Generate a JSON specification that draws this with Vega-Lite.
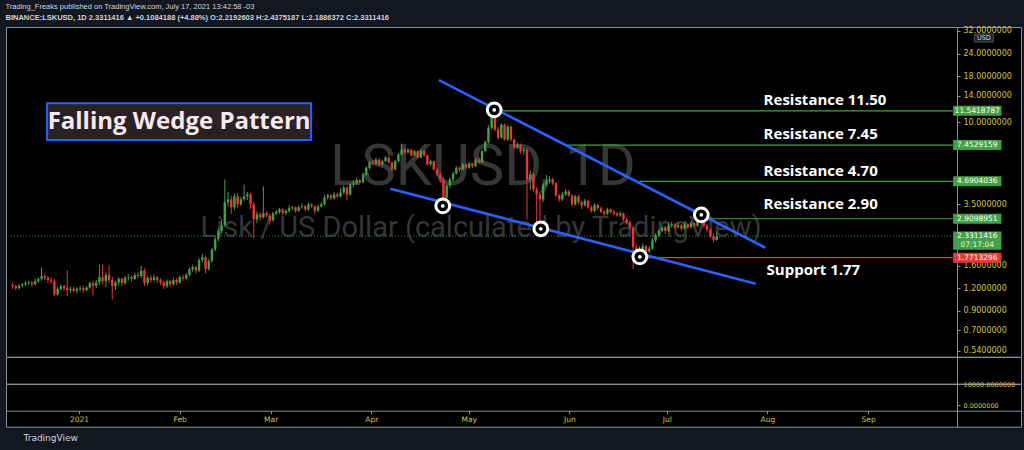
{
"$schema":"https://vega.github.io/schema/vega-lite/v6.json",
"background":"#131722",
"padding":{"left":5,"right":4,"top":3,"bottom":8},
"spacing":0,
"bounds":"flush",
"title":{"text":"Trading_Freaks published on TradingView.com, July 17, 2021 13:42:58 -03","subtitle":"BINANCE:LSKUSD, 1D  2.3311416 ▲ +0.1084188 (+4.88%) O:2.2192603 H:2.4375187 L:2.1886372 C:2.3311416","anchor":"start","frame":"bounds","font":"Liberation Sans","fontSize":7.5,"fontWeight":"normal","color":"#d1d4dc","subtitleFont":"Liberation Sans","subtitleFontSize":7.5,"subtitleFontWeight":"bold","subtitleColor":"#d1d4dc","subtitlePadding":3,"offset":5},
"config":{"view":{"stroke":"#8c8f99","fill":"#000000"},"axis":{"grid":false,"domainColor":"#8c8f99","tickColor":"#8c8f99","labelColor":"#d4c24a","labelFont":"DejaVu Sans","labelFontSize":8,"zindex":0}},
"datasets":{
"ohlc":[
{"t":"2020-12-10","o":1.25,"h":1.29,"l":1.19,"c":1.23},
{"t":"2020-12-11","o":1.23,"h":1.25,"l":1.17,"c":1.20},
{"t":"2020-12-12","o":1.20,"h":1.26,"l":1.18,"c":1.24},
{"t":"2020-12-13","o":1.24,"h":1.28,"l":1.21,"c":1.26},
{"t":"2020-12-14","o":1.26,"h":1.31,"l":1.23,"c":1.28},
{"t":"2020-12-15","o":1.28,"h":1.32,"l":1.25,"c":1.29},
{"t":"2020-12-16","o":1.29,"h":1.31,"l":1.22,"c":1.26},
{"t":"2020-12-17","o":1.26,"h":1.36,"l":1.24,"c":1.31},
{"t":"2020-12-18","o":1.31,"h":1.38,"l":1.28,"c":1.35},
{"t":"2020-12-19","o":1.35,"h":1.56,"l":1.32,"c":1.40},
{"t":"2020-12-20","o":1.40,"h":1.44,"l":1.33,"c":1.37},
{"t":"2020-12-21","o":1.37,"h":1.41,"l":1.28,"c":1.33},
{"t":"2020-12-22","o":1.33,"h":1.38,"l":1.27,"c":1.31},
{"t":"2020-12-23","o":1.31,"h":1.35,"l":1.08,"c":1.11},
{"t":"2020-12-24","o":1.11,"h":1.22,"l":1.09,"c":1.19},
{"t":"2020-12-25","o":1.19,"h":1.26,"l":1.17,"c":1.23},
{"t":"2020-12-26","o":1.23,"h":1.25,"l":1.16,"c":1.20},
{"t":"2020-12-27","o":1.20,"h":1.51,"l":1.08,"c":1.17},
{"t":"2020-12-28","o":1.17,"h":1.22,"l":1.13,"c":1.19},
{"t":"2020-12-29","o":1.19,"h":1.22,"l":1.14,"c":1.16},
{"t":"2020-12-30","o":1.16,"h":1.21,"l":1.12,"c":1.19},
{"t":"2020-12-31","o":1.19,"h":1.23,"l":1.15,"c":1.20},
{"t":"2021-01-01","o":1.20,"h":1.24,"l":1.13,"c":1.17},
{"t":"2021-01-02","o":1.17,"h":1.23,"l":1.15,"c":1.21},
{"t":"2021-01-03","o":1.21,"h":1.30,"l":1.19,"c":1.28},
{"t":"2021-01-04","o":1.28,"h":1.32,"l":1.09,"c":1.24},
{"t":"2021-01-05","o":1.24,"h":1.33,"l":1.20,"c":1.29},
{"t":"2021-01-06","o":1.29,"h":1.62,"l":1.25,"c":1.38},
{"t":"2021-01-07","o":1.38,"h":1.62,"l":1.26,"c":1.31},
{"t":"2021-01-08","o":1.31,"h":1.46,"l":1.22,"c":1.42},
{"t":"2021-01-09","o":1.42,"h":1.60,"l":1.28,"c":1.33},
{"t":"2021-01-10","o":1.33,"h":1.38,"l":1.04,"c":1.23},
{"t":"2021-01-11","o":1.23,"h":1.32,"l":1.17,"c":1.29},
{"t":"2021-01-12","o":1.29,"h":1.38,"l":1.24,"c":1.35},
{"t":"2021-01-13","o":1.35,"h":1.37,"l":1.23,"c":1.28},
{"t":"2021-01-14","o":1.28,"h":1.40,"l":1.25,"c":1.37},
{"t":"2021-01-15","o":1.37,"h":1.43,"l":1.32,"c":1.38},
{"t":"2021-01-16","o":1.38,"h":1.41,"l":1.30,"c":1.35},
{"t":"2021-01-17","o":1.35,"h":1.46,"l":1.33,"c":1.42},
{"t":"2021-01-18","o":1.42,"h":1.47,"l":1.36,"c":1.40},
{"t":"2021-01-19","o":1.40,"h":1.60,"l":1.37,"c":1.50},
{"t":"2021-01-20","o":1.50,"h":1.55,"l":1.23,"c":1.28},
{"t":"2021-01-21","o":1.28,"h":1.41,"l":1.24,"c":1.37},
{"t":"2021-01-22","o":1.37,"h":1.42,"l":1.29,"c":1.33},
{"t":"2021-01-23","o":1.33,"h":1.43,"l":1.31,"c":1.38},
{"t":"2021-01-24","o":1.38,"h":1.40,"l":1.29,"c":1.33},
{"t":"2021-01-25","o":1.33,"h":1.36,"l":1.25,"c":1.29},
{"t":"2021-01-26","o":1.29,"h":1.31,"l":1.19,"c":1.23},
{"t":"2021-01-27","o":1.23,"h":1.34,"l":1.20,"c":1.31},
{"t":"2021-01-28","o":1.31,"h":1.33,"l":1.22,"c":1.26},
{"t":"2021-01-29","o":1.26,"h":1.37,"l":1.24,"c":1.33},
{"t":"2021-01-30","o":1.33,"h":1.36,"l":1.25,"c":1.29},
{"t":"2021-01-31","o":1.29,"h":1.41,"l":1.27,"c":1.38},
{"t":"2021-02-01","o":1.38,"h":1.43,"l":1.32,"c":1.36},
{"t":"2021-02-02","o":1.36,"h":1.46,"l":1.34,"c":1.42},
{"t":"2021-02-03","o":1.42,"h":1.56,"l":1.40,"c":1.53},
{"t":"2021-02-04","o":1.53,"h":1.62,"l":1.48,"c":1.57},
{"t":"2021-02-05","o":1.57,"h":1.60,"l":1.44,"c":1.50},
{"t":"2021-02-06","o":1.50,"h":1.76,"l":1.47,"c":1.72},
{"t":"2021-02-07","o":1.72,"h":1.86,"l":1.66,"c":1.78},
{"t":"2021-02-08","o":1.78,"h":1.82,"l":1.45,"c":1.53},
{"t":"2021-02-09","o":1.53,"h":1.74,"l":1.50,"c":1.70},
{"t":"2021-02-10","o":1.70,"h":2.00,"l":1.66,"c":1.97},
{"t":"2021-02-11","o":1.97,"h":2.30,"l":1.92,"c":2.24},
{"t":"2021-02-12","o":2.24,"h":2.58,"l":2.18,"c":2.49},
{"t":"2021-02-13","o":2.49,"h":2.90,"l":2.41,"c":2.68},
{"t":"2021-02-14","o":2.68,"h":4.81,"l":2.62,"c":3.59},
{"t":"2021-02-15","o":3.59,"h":4.10,"l":3.40,"c":3.73},
{"t":"2021-02-16","o":3.73,"h":3.90,"l":3.10,"c":3.37},
{"t":"2021-02-17","o":3.37,"h":4.00,"l":3.25,"c":3.87},
{"t":"2021-02-18","o":3.87,"h":4.05,"l":3.35,"c":3.50},
{"t":"2021-02-19","o":3.50,"h":3.85,"l":3.42,"c":3.73},
{"t":"2021-02-20","o":3.73,"h":4.50,"l":3.65,"c":3.87},
{"t":"2021-02-21","o":3.87,"h":4.10,"l":3.70,"c":3.97},
{"t":"2021-02-22","o":3.97,"h":4.05,"l":3.30,"c":3.50},
{"t":"2021-02-23","o":3.50,"h":3.60,"l":2.28,"c":2.89},
{"t":"2021-02-24","o":2.89,"h":3.20,"l":2.75,"c":3.08},
{"t":"2021-02-25","o":3.08,"h":3.15,"l":2.85,"c":2.97},
{"t":"2021-02-26","o":2.97,"h":4.40,"l":2.92,"c":3.12},
{"t":"2021-02-27","o":3.12,"h":3.20,"l":2.95,"c":3.04},
{"t":"2021-02-28","o":3.04,"h":3.10,"l":2.70,"c":2.85},
{"t":"2021-03-01","o":2.85,"h":3.18,"l":2.80,"c":3.12},
{"t":"2021-03-02","o":3.12,"h":3.25,"l":3.05,"c":3.18},
{"t":"2021-03-03","o":3.18,"h":3.35,"l":3.10,"c":3.28},
{"t":"2021-03-04","o":3.28,"h":3.32,"l":3.05,"c":3.12},
{"t":"2021-03-05","o":3.12,"h":3.28,"l":3.05,"c":3.22},
{"t":"2021-03-06","o":3.22,"h":3.45,"l":3.15,"c":3.33},
{"t":"2021-03-07","o":3.33,"h":3.42,"l":3.25,"c":3.37},
{"t":"2021-03-08","o":3.37,"h":3.40,"l":3.15,"c":3.22},
{"t":"2021-03-09","o":3.22,"h":3.45,"l":3.18,"c":3.37},
{"t":"2021-03-10","o":3.37,"h":3.55,"l":3.30,"c":3.41},
{"t":"2021-03-11","o":3.41,"h":3.48,"l":3.20,"c":3.28},
{"t":"2021-03-12","o":3.28,"h":3.58,"l":3.22,"c":3.50},
{"t":"2021-03-13","o":3.50,"h":3.55,"l":3.35,"c":3.41},
{"t":"2021-03-14","o":3.41,"h":3.45,"l":3.10,"c":3.22},
{"t":"2021-03-15","o":3.22,"h":3.48,"l":3.18,"c":3.41},
{"t":"2021-03-16","o":3.41,"h":3.60,"l":3.35,"c":3.50},
{"t":"2021-03-17","o":3.50,"h":3.95,"l":3.45,"c":3.82},
{"t":"2021-03-18","o":3.82,"h":4.00,"l":3.72,"c":3.92},
{"t":"2021-03-19","o":3.92,"h":3.98,"l":3.70,"c":3.78},
{"t":"2021-03-20","o":3.78,"h":4.10,"l":3.72,"c":3.97},
{"t":"2021-03-21","o":3.97,"h":4.05,"l":3.80,"c":3.87},
{"t":"2021-03-22","o":3.87,"h":4.30,"l":3.82,"c":4.07},
{"t":"2021-03-23","o":4.07,"h":4.45,"l":3.98,"c":4.33},
{"t":"2021-03-24","o":4.33,"h":4.40,"l":3.70,"c":3.97},
{"t":"2021-03-25","o":3.97,"h":4.60,"l":3.90,"c":4.51},
{"t":"2021-03-26","o":4.51,"h":4.75,"l":4.35,"c":4.57},
{"t":"2021-03-27","o":4.57,"h":4.90,"l":4.50,"c":4.75},
{"t":"2021-03-28","o":4.75,"h":4.85,"l":4.55,"c":4.63},
{"t":"2021-03-29","o":4.63,"h":5.25,"l":4.58,"c":5.12},
{"t":"2021-03-30","o":5.12,"h":5.70,"l":5.05,"c":5.58},
{"t":"2021-03-31","o":5.58,"h":6.10,"l":5.45,"c":5.97},
{"t":"2021-04-01","o":5.97,"h":6.15,"l":5.75,"c":5.90},
{"t":"2021-04-02","o":5.90,"h":6.35,"l":5.80,"c":6.20},
{"t":"2021-04-03","o":6.20,"h":6.30,"l":5.70,"c":5.82},
{"t":"2021-04-04","o":5.82,"h":6.15,"l":5.75,"c":6.07},
{"t":"2021-04-05","o":6.07,"h":6.50,"l":6.00,"c":6.36},
{"t":"2021-04-06","o":6.36,"h":6.45,"l":5.90,"c":5.97},
{"t":"2021-04-07","o":5.97,"h":6.05,"l":5.35,"c":5.46},
{"t":"2021-04-08","o":5.46,"h":6.15,"l":5.40,"c":6.07},
{"t":"2021-04-09","o":6.07,"h":6.75,"l":6.00,"c":6.61},
{"t":"2021-04-10","o":6.61,"h":7.60,"l":6.55,"c":7.04},
{"t":"2021-04-11","o":7.04,"h":7.20,"l":6.70,"c":6.78},
{"t":"2021-04-12","o":6.78,"h":7.15,"l":6.70,"c":7.04},
{"t":"2021-04-13","o":7.04,"h":7.10,"l":6.45,"c":6.53},
{"t":"2021-04-14","o":6.53,"h":7.00,"l":6.48,"c":6.90},
{"t":"2021-04-15","o":6.90,"h":6.95,"l":6.30,"c":6.36},
{"t":"2021-04-16","o":6.36,"h":7.00,"l":6.30,"c":6.90},
{"t":"2021-04-17","o":6.90,"h":7.05,"l":6.45,"c":6.53},
{"t":"2021-04-18","o":6.53,"h":6.60,"l":5.75,"c":5.82},
{"t":"2021-04-19","o":5.82,"h":6.20,"l":5.70,"c":6.07},
{"t":"2021-04-20","o":6.07,"h":6.10,"l":5.40,"c":5.46},
{"t":"2021-04-21","o":5.46,"h":5.55,"l":5.00,"c":5.12},
{"t":"2021-04-22","o":5.12,"h":5.25,"l":4.60,"c":4.81},
{"t":"2021-04-23","o":4.81,"h":4.95,"l":3.20,"c":3.80},
{"t":"2021-04-24","o":3.80,"h":4.50,"l":3.70,"c":4.45},
{"t":"2021-04-25","o":4.45,"h":4.90,"l":4.30,"c":4.81},
{"t":"2021-04-26","o":4.81,"h":5.30,"l":4.70,"c":5.19},
{"t":"2021-04-27","o":5.19,"h":5.70,"l":5.10,"c":5.58},
{"t":"2021-04-28","o":5.58,"h":5.65,"l":5.30,"c":5.46},
{"t":"2021-04-29","o":5.46,"h":5.95,"l":5.40,"c":5.82},
{"t":"2021-04-30","o":5.82,"h":5.90,"l":5.45,"c":5.58},
{"t":"2021-05-01","o":5.58,"h":6.00,"l":5.50,"c":5.90},
{"t":"2021-05-02","o":5.90,"h":5.95,"l":5.55,"c":5.70},
{"t":"2021-05-03","o":5.70,"h":6.30,"l":5.65,"c":6.20},
{"t":"2021-05-04","o":6.20,"h":6.30,"l":5.85,"c":5.97},
{"t":"2021-05-05","o":5.97,"h":7.00,"l":5.90,"c":6.90},
{"t":"2021-05-06","o":6.90,"h":7.90,"l":6.80,"c":7.74},
{"t":"2021-05-07","o":7.74,"h":9.60,"l":7.60,"c":9.30},
{"t":"2021-05-08","o":9.30,"h":12.0,"l":9.10,"c":11.0},
{"t":"2021-05-09","o":11.0,"h":11.5,"l":8.90,"c":9.08},
{"t":"2021-05-10","o":9.08,"h":9.40,"l":8.00,"c":8.21},
{"t":"2021-05-11","o":8.21,"h":9.90,"l":8.10,"c":9.67},
{"t":"2021-05-12","o":9.67,"h":9.80,"l":7.90,"c":8.00},
{"t":"2021-05-13","o":8.00,"h":9.60,"l":7.85,"c":9.45},
{"t":"2021-05-14","o":9.45,"h":9.50,"l":7.80,"c":8.00},
{"t":"2021-05-15","o":8.00,"h":8.10,"l":7.10,"c":7.28},
{"t":"2021-05-16","o":7.28,"h":7.70,"l":7.10,"c":7.50},
{"t":"2021-05-17","o":7.50,"h":7.60,"l":6.70,"c":6.90},
{"t":"2021-05-18","o":6.90,"h":7.20,"l":6.60,"c":7.04},
{"t":"2021-05-19","o":7.04,"h":7.10,"l":2.89,"c":4.81},
{"t":"2021-05-20","o":4.81,"h":5.40,"l":4.20,"c":5.12},
{"t":"2021-05-21","o":5.12,"h":5.20,"l":4.10,"c":4.23},
{"t":"2021-05-22","o":4.23,"h":4.40,"l":2.80,"c":3.97},
{"t":"2021-05-23","o":3.97,"h":4.10,"l":2.60,"c":3.73},
{"t":"2021-05-24","o":3.73,"h":4.60,"l":3.60,"c":4.51},
{"t":"2021-05-25","o":4.51,"h":5.10,"l":4.40,"c":4.69},
{"t":"2021-05-26","o":4.69,"h":5.00,"l":4.55,"c":4.81},
{"t":"2021-05-27","o":4.81,"h":4.90,"l":4.45,"c":4.57},
{"t":"2021-05-28","o":4.57,"h":4.65,"l":3.85,"c":3.92},
{"t":"2021-05-29","o":3.92,"h":4.00,"l":3.60,"c":3.73},
{"t":"2021-05-30","o":3.73,"h":4.10,"l":3.65,"c":3.97},
{"t":"2021-05-31","o":3.97,"h":4.25,"l":3.90,"c":4.12},
{"t":"2021-06-01","o":4.12,"h":4.20,"l":3.85,"c":3.92},
{"t":"2021-06-02","o":3.92,"h":3.98,"l":3.40,"c":3.50},
{"t":"2021-06-03","o":3.50,"h":3.95,"l":3.45,"c":3.87},
{"t":"2021-06-04","o":3.87,"h":3.95,"l":3.50,"c":3.59},
{"t":"2021-06-05","o":3.59,"h":3.65,"l":3.30,"c":3.46},
{"t":"2021-06-06","o":3.46,"h":3.75,"l":3.40,"c":3.66},
{"t":"2021-06-07","o":3.66,"h":3.70,"l":3.30,"c":3.37},
{"t":"2021-06-08","o":3.37,"h":3.45,"l":3.15,"c":3.22},
{"t":"2021-06-09","o":3.22,"h":3.55,"l":3.15,"c":3.46},
{"t":"2021-06-10","o":3.46,"h":3.52,"l":3.25,"c":3.33},
{"t":"2021-06-11","o":3.33,"h":3.40,"l":3.12,"c":3.18},
{"t":"2021-06-12","o":3.18,"h":3.25,"l":3.02,"c":3.11},
{"t":"2021-06-13","o":3.11,"h":3.35,"l":3.05,"c":3.28},
{"t":"2021-06-14","o":3.28,"h":3.32,"l":3.10,"c":3.18},
{"t":"2021-06-15","o":3.18,"h":3.25,"l":3.05,"c":3.11},
{"t":"2021-06-16","o":3.11,"h":3.18,"l":2.98,"c":3.04},
{"t":"2021-06-17","o":3.04,"h":3.20,"l":2.98,"c":3.11},
{"t":"2021-06-18","o":3.11,"h":3.15,"l":2.82,"c":2.89},
{"t":"2021-06-19","o":2.89,"h":2.95,"l":2.70,"c":2.78},
{"t":"2021-06-20","o":2.78,"h":2.85,"l":2.55,"c":2.61},
{"t":"2021-06-21","o":2.61,"h":2.66,"l":1.53,"c":2.02},
{"t":"2021-06-22","o":2.02,"h":2.10,"l":1.75,"c":1.87},
{"t":"2021-06-23","o":1.87,"h":2.05,"l":1.80,"c":1.97},
{"t":"2021-06-24","o":1.97,"h":2.12,"l":1.92,"c":2.05},
{"t":"2021-06-25","o":2.05,"h":2.08,"l":1.85,"c":1.92},
{"t":"2021-06-26","o":1.92,"h":2.05,"l":1.88,"c":1.99},
{"t":"2021-06-27","o":1.99,"h":2.28,"l":1.95,"c":2.21},
{"t":"2021-06-28","o":2.21,"h":2.42,"l":2.15,"c":2.36},
{"t":"2021-06-29","o":2.36,"h":2.55,"l":2.30,"c":2.49},
{"t":"2021-06-30","o":2.49,"h":2.68,"l":2.45,"c":2.61},
{"t":"2021-07-01","o":2.61,"h":2.65,"l":2.40,"c":2.49},
{"t":"2021-07-02","o":2.49,"h":2.75,"l":2.45,"c":2.67},
{"t":"2021-07-03","o":2.67,"h":2.80,"l":2.60,"c":2.71},
{"t":"2021-07-04","o":2.71,"h":2.76,"l":2.55,"c":2.61},
{"t":"2021-07-05","o":2.61,"h":2.78,"l":2.58,"c":2.67},
{"t":"2021-07-06","o":2.67,"h":2.72,"l":2.50,"c":2.57},
{"t":"2021-07-07","o":2.57,"h":2.80,"l":2.52,"c":2.71},
{"t":"2021-07-08","o":2.71,"h":2.75,"l":2.55,"c":2.61},
{"t":"2021-07-09","o":2.61,"h":2.82,"l":2.58,"c":2.75},
{"t":"2021-07-10","o":2.75,"h":2.78,"l":2.60,"c":2.67},
{"t":"2021-07-11","o":2.67,"h":2.88,"l":2.62,"c":2.82},
{"t":"2021-07-12","o":2.82,"h":3.05,"l":2.78,"c":2.94},
{"t":"2021-07-13","o":2.94,"h":2.98,"l":2.60,"c":2.67},
{"t":"2021-07-14","o":2.67,"h":2.72,"l":2.45,"c":2.53},
{"t":"2021-07-15","o":2.53,"h":2.58,"l":2.28,"c":2.33},
{"t":"2021-07-16","o":2.33,"h":2.40,"l":2.15,"c":2.2227},
{"t":"2021-07-17","o":2.2193,"h":2.4375,"l":2.1886,"c":2.3311}
],
"lvl":[
{"t":"2021-05-08T19:00:00Z","p":11.5418787,"kind":"resistance"},
{"t":"2021-05-31T12:00:00Z","p":7.4529159,"kind":"resistance"},
{"t":"2021-06-23T00:00:00Z","p":4.6904036,"kind":"resistance"},
{"t":"2021-07-12T05:00:00Z","p":2.9098951,"kind":"resistance"},
{"t":"2021-06-23T02:00:00Z","p":1.7713296,"kind":"support"}
],
"wedge":[
{"w":"upper","t":"2021-04-21T14:00:00Z","p":17.1},
{"w":"upper","t":"2021-08-01T03:00:00Z","p":2.01},
{"w":"lower","t":"2021-04-06T12:00:00Z","p":4.27},
{"w":"lower","t":"2021-07-29T03:00:00Z","p":1.27}
],
"circ":[
{"t":"2021-05-08T19:00:00Z","p":11.68},
{"t":"2021-04-22T19:00:00Z","p":3.43},
{"t":"2021-05-23T07:00:00Z","p":2.56},
{"t":"2021-06-23T02:00:00Z","p":1.79},
{"t":"2021-07-12T05:00:00Z","p":3.06}
],
"ann":[
{"t":"2021-07-31T14:00:00Z","p":13.27,"txt":"Resistance 11.50"},
{"t":"2021-07-31T14:00:00Z","p":8.60,"txt":"Resistance 7.45"},
{"t":"2021-07-31T14:00:00Z","p":5.37,"txt":"Resistance 4.70"},
{"t":"2021-07-31T14:00:00Z","p":3.52,"txt":"Resistance 2.90"},
{"t":"2021-08-01T12:00:00Z","p":1.52,"txt":"Support 1.77"}
],
"tags":[
{"p":11.5418787,"txt":"11.5418787","kind":"resistance"},
{"p":7.4529159,"txt":"7.4529159","kind":"resistance"},
{"p":4.6904036,"txt":"4.6904036","kind":"resistance"},
{"p":2.9098951,"txt":"2.9098951","kind":"resistance"},
{"p":1.7713296,"txt":"1.7713296","kind":"support"}
],
"last":[{"p":2.3311416,"txt":"2.3311416","sub":"07:17:04","kind":"resistance"}]
},
"vconcat":[
{
"width":1015,"height":329.7,
"layer":[
{"data":{"values":[{"t":"2021-05-05T07:00:00Z","p":4.49,"txt":"LSKUSD, 1D"}]},
 "mark":{"type":"text","font":"Roboto","fontSize":58,"color":"#363636","align":"center","baseline":"alphabetic"},
 "encoding":{"x":{"field":"t","type":"temporal","scale":{"type":"utc","nice":false,"domain":[{"year":2020,"month":12,"date":9,"hours":12,"utc":true},{"year":2021,"month":10,"date":18,"hours":2,"utc":true}]},"axis":null},
  "y":{"field":"p","type":"quantitative","scale":{"type":"log","nice":false,"domain":[0.5,33.67]},"axis":{"orient":"right","offset":-64,"values":[0.54,0.7,0.9,1.2,1.6,3.5,10,14,18,24,32],"format":".7f","tickSize":3,"labelPadding":3,"labelOverlap":false,"title":null,"zindex":0}},
  "text":{"field":"txt"}}},
{"data":{"values":[{"t":"2021-05-04T17:00:00Z","p":2.31,"txt":"Lisk / US Dollar (calculated by TradingView)"}]},
 "mark":{"type":"text","font":"Roboto","fontSize":29,"color":"#363636","align":"center","baseline":"alphabetic"},
 "encoding":{"x":{"field":"t","type":"temporal","scale":{"type":"utc","nice":false,"domain":[{"year":2020,"month":12,"date":9,"hours":12,"utc":true},{"year":2021,"month":10,"date":18,"hours":2,"utc":true}]},"axis":null},
  "y":{"field":"p","type":"quantitative","scale":{"type":"log","nice":false,"domain":[0.5,33.67]},"axis":{"orient":"right","offset":-64,"values":[0.54,0.7,0.9,1.2,1.6,3.5,10,14,18,24,32],"format":".7f","tickSize":3,"labelPadding":3,"labelOverlap":false,"title":null,"zindex":0}},"text":{"field":"txt"}}},
{"data":{"values":[{"p":2.3311416}]},
 "mark":{"type":"rule","color":"#2e7d32","strokeWidth":1,"strokeDash":[1,2]},
 "encoding":{"x":{"datum":{"year":2020,"month":12,"date":9,"hours":12,"utc":true},"type":"temporal","scale":{"type":"utc","nice":false,"domain":[{"year":2020,"month":12,"date":9,"hours":12,"utc":true},{"year":2021,"month":10,"date":18,"hours":2,"utc":true}]},"axis":null},"x2":{"datum":{"year":2021,"month":9,"date":28,"hours":10,"utc":true}},
  "y":{"field":"p","type":"quantitative","scale":{"type":"log","nice":false,"domain":[0.5,33.67]},"axis":{"orient":"right","offset":-64,"values":[0.54,0.7,0.9,1.2,1.6,3.5,10,14,18,24,32],"format":".7f","tickSize":3,"labelPadding":3,"labelOverlap":false,"title":null,"zindex":0}}}},
{"data":{"name":"ohlc"},
 "mark":{"type":"rule","strokeWidth":1},
 "encoding":{"x":{"field":"t","type":"temporal","scale":{"type":"utc","nice":false,"domain":[{"year":2020,"month":12,"date":9,"hours":12,"utc":true},{"year":2021,"month":10,"date":18,"hours":2,"utc":true}]},"axis":null},
  "y":{"field":"l","type":"quantitative","scale":{"type":"log","nice":false,"domain":[0.5,33.67]},"axis":{"orient":"right","offset":-64,"values":[0.54,0.7,0.9,1.2,1.6,3.5,10,14,18,24,32],"format":".7f","tickSize":3,"labelPadding":3,"labelOverlap":false,"title":null,"zindex":0}},"y2":{"field":"h"},
  "color":{"condition":{"test":"datum.c >= datum.o","value":"#43a047"},"value":"#e53935"}}},
{"data":{"name":"ohlc"},
 "mark":{"type":"bar","width":2.4},
 "encoding":{"x":{"field":"t","type":"temporal","scale":{"type":"utc","nice":false,"domain":[{"year":2020,"month":12,"date":9,"hours":12,"utc":true},{"year":2021,"month":10,"date":18,"hours":2,"utc":true}]},"axis":null},
  "y":{"field":"o","type":"quantitative","scale":{"type":"log","nice":false,"domain":[0.5,33.67]},"axis":{"orient":"right","offset":-64,"values":[0.54,0.7,0.9,1.2,1.6,3.5,10,14,18,24,32],"format":".7f","tickSize":3,"labelPadding":3,"labelOverlap":false,"title":null,"zindex":0}},"y2":{"field":"c"},
  "color":{"condition":{"test":"datum.c >= datum.o","value":"#43a047"},"value":"#e53935"}}},
{"data":{"name":"lvl"},
 "mark":{"type":"rule","strokeWidth":1.2},
 "encoding":{"x":{"field":"t","type":"temporal","scale":{"type":"utc","nice":false,"domain":[{"year":2020,"month":12,"date":9,"hours":12,"utc":true},{"year":2021,"month":10,"date":18,"hours":2,"utc":true}]},"axis":null},"x2":{"datum":{"year":2021,"month":9,"date":28,"hours":10,"utc":true}},
  "y":{"field":"p","type":"quantitative","scale":{"type":"log","nice":false,"domain":[0.5,33.67]},"axis":{"orient":"right","offset":-64,"values":[0.54,0.7,0.9,1.2,1.6,3.5,10,14,18,24,32],"format":".7f","tickSize":3,"labelPadding":3,"labelOverlap":false,"title":null,"zindex":0}},
  "color":{"field":"kind","type":"nominal","scale":{"domain":["resistance","support"],"range":["#43a047","#e53935"]},"legend":null}}},
{"data":{"name":"wedge"},
 "mark":{"type":"line","color":"#2962ff","strokeWidth":2.6},
 "encoding":{"x":{"field":"t","type":"temporal","scale":{"type":"utc","nice":false,"domain":[{"year":2020,"month":12,"date":9,"hours":12,"utc":true},{"year":2021,"month":10,"date":18,"hours":2,"utc":true}]},"axis":null},
  "y":{"field":"p","type":"quantitative","scale":{"type":"log","nice":false,"domain":[0.5,33.67]},"axis":{"orient":"right","offset":-64,"values":[0.54,0.7,0.9,1.2,1.6,3.5,10,14,18,24,32],"format":".7f","tickSize":3,"labelPadding":3,"labelOverlap":false,"title":null,"zindex":0}},"detail":{"field":"w"}}},
{"data":{"name":"circ"},
 "mark":{"type":"point","shape":"circle","filled":false,"fill":"#000000","fillOpacity":1,"stroke":"#ffffff","strokeWidth":3,"size":190,"opacity":1},
 "encoding":{"x":{"field":"t","type":"temporal","scale":{"type":"utc","nice":false,"domain":[{"year":2020,"month":12,"date":9,"hours":12,"utc":true},{"year":2021,"month":10,"date":18,"hours":2,"utc":true}]},"axis":null},
  "y":{"field":"p","type":"quantitative","scale":{"type":"log","nice":false,"domain":[0.5,33.67]},"axis":{"orient":"right","offset":-64,"values":[0.54,0.7,0.9,1.2,1.6,3.5,10,14,18,24,32],"format":".7f","tickSize":3,"labelPadding":3,"labelOverlap":false,"title":null,"zindex":0}}}},
{"data":{"name":"circ"},
 "mark":{"type":"point","shape":"circle","filled":true,"color":"#ffffff","size":14,"opacity":1},
 "encoding":{"x":{"field":"t","type":"temporal","scale":{"type":"utc","nice":false,"domain":[{"year":2020,"month":12,"date":9,"hours":12,"utc":true},{"year":2021,"month":10,"date":18,"hours":2,"utc":true}]},"axis":null},
  "y":{"field":"p","type":"quantitative","scale":{"type":"log","nice":false,"domain":[0.5,33.67]},"axis":{"orient":"right","offset":-64,"values":[0.54,0.7,0.9,1.2,1.6,3.5,10,14,18,24,32],"format":".7f","tickSize":3,"labelPadding":3,"labelOverlap":false,"title":null,"zindex":0}}}},
{"data":{"name":"ann"},
 "mark":{"type":"text","font":"Open Sans","fontWeight":"bold","fontSize":15,"color":"#ffffff","align":"left","baseline":"middle"},
 "encoding":{"x":{"field":"t","type":"temporal","scale":{"type":"utc","nice":false,"domain":[{"year":2020,"month":12,"date":9,"hours":12,"utc":true},{"year":2021,"month":10,"date":18,"hours":2,"utc":true}]},"axis":null},
  "y":{"field":"p","type":"quantitative","scale":{"type":"log","nice":false,"domain":[0.5,33.67]},"axis":{"orient":"right","offset":-64,"values":[0.54,0.7,0.9,1.2,1.6,3.5,10,14,18,24,32],"format":".7f","tickSize":3,"labelPadding":3,"labelOverlap":false,"title":null,"zindex":0}},"text":{"field":"txt"}}},
{"data":{"values":[{"t":"2021-01-30T19:00:00Z","p":10.06,"txt":"Falling Wedge Pattern"}]},
 "mark":{"type":"point","shape":"M-1,-0.1395H1V0.1395H-1Z","size":69700,"filled":true,"fill":"#2a2125","stroke":"#2962ff","strokeWidth":2,"opacity":1},
 "encoding":{"x":{"field":"t","type":"temporal","scale":{"type":"utc","nice":false,"domain":[{"year":2020,"month":12,"date":9,"hours":12,"utc":true},{"year":2021,"month":10,"date":18,"hours":2,"utc":true}]},"axis":null},
  "y":{"field":"p","type":"quantitative","scale":{"type":"log","nice":false,"domain":[0.5,33.67]},"axis":{"orient":"right","offset":-64,"values":[0.54,0.7,0.9,1.2,1.6,3.5,10,14,18,24,32],"format":".7f","tickSize":3,"labelPadding":3,"labelOverlap":false,"title":null,"zindex":0}}}},
{"data":{"values":[{"t":"2021-01-30T19:00:00Z","p":10.06,"txt":"Falling Wedge Pattern"}]},
 "mark":{"type":"text","font":"Open Sans","fontWeight":"bold","fontSize":24,"color":"#f6e9ef","align":"center","baseline":"middle"},
 "encoding":{"x":{"field":"t","type":"temporal","scale":{"type":"utc","nice":false,"domain":[{"year":2020,"month":12,"date":9,"hours":12,"utc":true},{"year":2021,"month":10,"date":18,"hours":2,"utc":true}]},"axis":null},
  "y":{"field":"p","type":"quantitative","scale":{"type":"log","nice":false,"domain":[0.5,33.67]},"axis":{"orient":"right","offset":-64,"values":[0.54,0.7,0.9,1.2,1.6,3.5,10,14,18,24,32],"format":".7f","tickSize":3,"labelPadding":3,"labelOverlap":false,"title":null,"zindex":0}},"text":{"field":"txt"}}},
{"data":{"name":"tags"},
 "mark":{"type":"point","shape":"M-1,-0.207H1V0.207H-1Z","size":2333,"filled":true,"opacity":1},
 "encoding":{"x":{"datum":{"year":2021,"month":10,"date":6,"hours":1,"utc":true},"type":"temporal","scale":{"type":"utc","nice":false,"domain":[{"year":2020,"month":12,"date":9,"hours":12,"utc":true},{"year":2021,"month":10,"date":18,"hours":2,"utc":true}]},"axis":null},
  "y":{"field":"p","type":"quantitative","scale":{"type":"log","nice":false,"domain":[0.5,33.67]},"axis":{"orient":"right","offset":-64,"values":[0.54,0.7,0.9,1.2,1.6,3.5,10,14,18,24,32],"format":".7f","tickSize":3,"labelPadding":3,"labelOverlap":false,"title":null,"zindex":0}},
  "color":{"field":"kind","type":"nominal","scale":{"domain":["resistance","support"],"range":["#43a047","#e53935"]},"legend":null}}},
{"data":{"name":"last"},
 "mark":{"type":"point","shape":"M-1,-0.195H1V0.563H-1Z","size":2333,"filled":true,"opacity":1,"color":"#43a047"},
 "encoding":{"x":{"datum":{"year":2021,"month":10,"date":6,"hours":1,"utc":true},"type":"temporal","scale":{"type":"utc","nice":false,"domain":[{"year":2020,"month":12,"date":9,"hours":12,"utc":true},{"year":2021,"month":10,"date":18,"hours":2,"utc":true}]},"axis":null},
  "y":{"field":"p","type":"quantitative","scale":{"type":"log","nice":false,"domain":[0.5,33.67]},"axis":{"orient":"right","offset":-64,"values":[0.54,0.7,0.9,1.2,1.6,3.5,10,14,18,24,32],"format":".7f","tickSize":3,"labelPadding":3,"labelOverlap":false,"title":null,"zindex":0}}}},
{"data":{"name":"tags"},
 "mark":{"type":"text","font":"DejaVu Sans","fontSize":7.5,"color":"#ffffff","align":"center","baseline":"middle"},
 "encoding":{"x":{"datum":{"year":2021,"month":10,"date":6,"hours":1,"utc":true},"type":"temporal","scale":{"type":"utc","nice":false,"domain":[{"year":2020,"month":12,"date":9,"hours":12,"utc":true},{"year":2021,"month":10,"date":18,"hours":2,"utc":true}]},"axis":null},
  "y":{"field":"p","type":"quantitative","scale":{"type":"log","nice":false,"domain":[0.5,33.67]},"axis":{"orient":"right","offset":-64,"values":[0.54,0.7,0.9,1.2,1.6,3.5,10,14,18,24,32],"format":".7f","tickSize":3,"labelPadding":3,"labelOverlap":false,"title":null,"zindex":0}},"text":{"field":"txt"}}},
{"data":{"name":"last"},
 "mark":{"type":"text","font":"DejaVu Sans","fontSize":7.5,"color":"#ffffff","align":"center","baseline":"middle"},
 "encoding":{"x":{"datum":{"year":2021,"month":10,"date":6,"hours":1,"utc":true},"type":"temporal","scale":{"type":"utc","nice":false,"domain":[{"year":2020,"month":12,"date":9,"hours":12,"utc":true},{"year":2021,"month":10,"date":18,"hours":2,"utc":true}]},"axis":null},
  "y":{"field":"p","type":"quantitative","scale":{"type":"log","nice":false,"domain":[0.5,33.67]},"axis":{"orient":"right","offset":-64,"values":[0.54,0.7,0.9,1.2,1.6,3.5,10,14,18,24,32],"format":".7f","tickSize":3,"labelPadding":3,"labelOverlap":false,"title":null,"zindex":0}},"text":{"field":"txt"}}},
{"data":{"name":"last"},
 "mark":{"type":"text","font":"DejaVu Sans","fontSize":7.5,"color":"#e8f5e9","align":"center","baseline":"middle","dy":9},
 "encoding":{"x":{"datum":{"year":2021,"month":10,"date":6,"hours":1,"utc":true},"type":"temporal","scale":{"type":"utc","nice":false,"domain":[{"year":2020,"month":12,"date":9,"hours":12,"utc":true},{"year":2021,"month":10,"date":18,"hours":2,"utc":true}]},"axis":null},
  "y":{"field":"p","type":"quantitative","scale":{"type":"log","nice":false,"domain":[0.5,33.67]},"axis":{"orient":"right","offset":-64,"values":[0.54,0.7,0.9,1.2,1.6,3.5,10,14,18,24,32],"format":".7f","tickSize":3,"labelPadding":3,"labelOverlap":false,"title":null,"zindex":0}},"text":{"field":"sub"}}},
{"data":{"values":[{"p":29.27,"txt":"USD"}]},
 "mark":{"type":"point","shape":"M-1,-0.42H1V0.42H-1Z","size":361,"filled":true,"fill":"#1e222d","stroke":"#50535e","strokeWidth":1,"opacity":1},
 "encoding":{"x":{"datum":{"year":2021,"month":10,"date":8,"hours":2,"utc":true},"type":"temporal","scale":{"type":"utc","nice":false,"domain":[{"year":2020,"month":12,"date":9,"hours":12,"utc":true},{"year":2021,"month":10,"date":18,"hours":2,"utc":true}]},"axis":null},
  "y":{"field":"p","type":"quantitative","scale":{"type":"log","nice":false,"domain":[0.5,33.67]},"axis":{"orient":"right","offset":-64,"values":[0.54,0.7,0.9,1.2,1.6,3.5,10,14,18,24,32],"format":".7f","tickSize":3,"labelPadding":3,"labelOverlap":false,"title":null,"zindex":0}}}},
{"data":{"values":[{"p":29.27,"txt":"USD"}]},
 "mark":{"type":"text","font":"DejaVu Sans","fontSize":6.5,"color":"#d1d4dc","align":"center","baseline":"middle"},
 "encoding":{"x":{"datum":{"year":2021,"month":10,"date":8,"hours":2,"utc":true},"type":"temporal","scale":{"type":"utc","nice":false,"domain":[{"year":2020,"month":12,"date":9,"hours":12,"utc":true},{"year":2021,"month":10,"date":18,"hours":2,"utc":true}]},"axis":null},
  "y":{"field":"p","type":"quantitative","scale":{"type":"log","nice":false,"domain":[0.5,33.67]},"axis":{"orient":"right","offset":-64,"values":[0.54,0.7,0.9,1.2,1.6,3.5,10,14,18,24,32],"format":".7f","tickSize":3,"labelPadding":3,"labelOverlap":false,"title":null,"zindex":0}},"text":{"field":"txt"}}}
]
},
{
"width":1015,"height":26.6,
"data":{"values":[{"t":"2021-01-01","v":0.5}]},
"mark":{"type":"point","opacity":0},
"encoding":{"x":{"field":"t","type":"temporal","scale":{"type":"utc","nice":false,"domain":[{"year":2020,"month":12,"date":9,"hours":12,"utc":true},{"year":2021,"month":10,"date":18,"hours":2,"utc":true}]},"axis":null},
 "y":{"field":"v","type":"quantitative","scale":{"domain":[0,1],"nice":false},"axis":{"orient":"right","offset":-64,"labels":false,"ticks":false,"title":null}}}
},
{
"width":1015,"height":42.7,
"data":{"values":[{"t":"2021-01-01","v":0}]},
"mark":{"type":"point","opacity":0},
"encoding":{"x":{"field":"t","type":"temporal","scale":{"type":"utc","nice":false,"domain":[{"year":2020,"month":12,"date":9,"hours":12,"utc":true},{"year":2021,"month":10,"date":18,"hours":2,"utc":true}]},
  "axis":{"orient":"bottom","offset":-16,"values":[{"year":2021,"month":1,"date":1,"utc":true},{"year":2021,"month":2,"date":1,"utc":true},{"year":2021,"month":3,"date":1,"utc":true},{"year":2021,"month":4,"date":1,"utc":true},{"year":2021,"month":5,"date":1,"utc":true},{"year":2021,"month":6,"date":1,"utc":true},{"year":2021,"month":7,"date":1,"utc":true},{"year":2021,"month":8,"date":1,"utc":true},{"year":2021,"month":9,"date":1,"utc":true}],
   "labelExpr":"utcFormat(datum.value, '%m') == '01' ? utcFormat(datum.value, '%Y') : utcFormat(datum.value, '%b')","labelFlush":false,"labelFontSize":7.5,"tickSize":3,"labelPadding":2,
   "title":"TradingView","titleX":17,"titleY":27,"titleAlign":"left","titleBaseline":"middle","titleAngle":0,"titleColor":"#d1d4dc","titleFont":"DejaVu Sans","titleFontSize":9,"titleFontWeight":"normal"}},
 "y":{"field":"v","type":"quantitative","scale":{"domain":[-10238,10238],"nice":false},"axis":{"orient":"right","offset":-64,"values":[0,10000],"format":".7f","tickSize":3,"labelPadding":3,"labelFontSize":6.5,"title":null}}}
}
]
}
